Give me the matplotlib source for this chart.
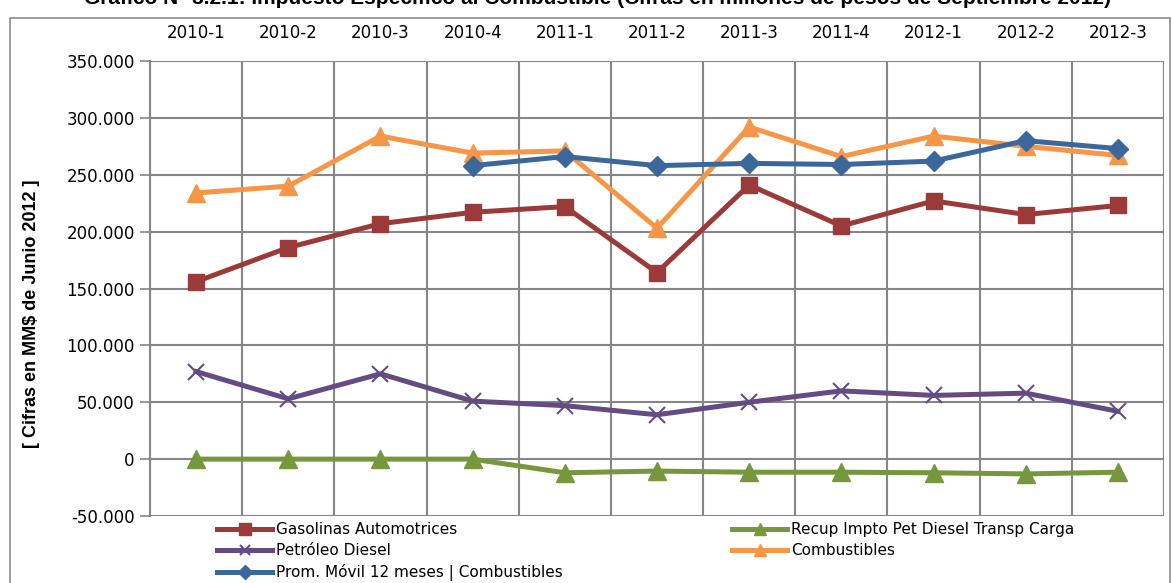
import matplotlib
matplotlib.use("Agg")
import matplotlib.pyplot as plt
from matplotlib.patches import Rectangle
from matplotlib.ticker import FuncFormatter, FixedLocator
import numpy as np

# Datos (millones de pesos)
periodos = ["2010-1", "2010-2", "2010-3", "2010-4", "2011-1", "2011-2",
            "2011-3", "2011-4", "2012-1", "2012-2", "2012-3"]
gasolinas = [156000, 186000, 207000, 217000, 222000, 164000,
             241000, 205000, 227000, 215000, 223000]
recup = [0, 0, 0, 0, -12000, -10500, -11500, -11500, -12000, -13000, -11500]
diesel = [77000, 53000, 75000, 51000, 47000, 39000,
          50000, 60000, 56000, 58000, 42000]
combustibles = [234000, 240000, 284000, 269000, 271000, 203000,
                292000, 266000, 284000, 275000, 267000]
prom_movil = [np.nan, np.nan, np.nan, 258000, 266000, 258000,
              260000, 259000, 262000, 280000, 273000]

plt.rcParams["font.family"] = ["DejaVu Sans"]

fig = plt.figure(figsize=(11.72, 5.83), dpi=100)
fig.set_facecolor("white")

# marco exterior
fig.patches.append(Rectangle((10 / 1172, -0.05), 1160 / 1172, 1.05 - 18 / 583,
                             transform=fig.transFigure, fill=False,
                             edgecolor="#8c8c8c", linewidth=1.2))

# titulo (cortado en el borde superior, como en el original)
fig.text(598 / 1172, 1.0 + 2 / 583, "Gráfico N° 3.2.1: Impuesto Específico al Combustible "
         "(Cifras en millones de pesos de Septiembre 2012)",
         ha="center", va="center", fontsize=15, fontweight="bold",
         family=["Liberation Sans", "DejaVu Sans"])

ax = fig.add_axes([150 / 1172, 1 - 516 / 583, 1014 / 1172, 455 / 583])
x = np.arange(len(periodos))

l1, = ax.plot(x, gasolinas, color="#9a3b39", lw=3.6, marker="s", ms=12,
              label="Gasolinas Automotrices")
l2, = ax.plot(x, recup, color="#77973d", lw=3.6, marker="^", ms=13,
              label="Recup Impto Pet Diesel Transp Carga")
l3, = ax.plot(x, diesel, color="#644c82", lw=3.6, marker="x", ms=11, mew=1.5,
              label="Petróleo Diesel")
l4, = ax.plot(x, combustibles, color="#f79646", lw=3.6, marker="^", ms=13,
              label="Combustibles")
l5, = ax.plot(x, prom_movil, color="#3c679b", lw=3.6, marker="D", ms=10,
              label="Prom. Móvil 12 meses | Combustibles")

ax.set_xlim(-0.5, len(periodos) - 0.5)
ax.set_ylim(-50000, 350000)
ax.set_yticks(np.arange(-50000, 350001, 50000))
ax.yaxis.set_major_formatter(FuncFormatter(
    lambda v, p: "0" if v == 0 else f"{v:,.0f}".replace(",", ".")))

ax.xaxis.tick_top()
ax.set_xticks(x)
ax.set_xticklabels(periodos)
ax.xaxis.set_minor_locator(FixedLocator(np.arange(-0.5, len(periodos), 1)))
ax.tick_params(axis="x", which="both", length=0, pad=14, labelsize=12)
ax.tick_params(axis="y", length=7, color="#868686", width=1.2, labelsize=12, pad=4)

ax.grid(axis="y", which="major", color="#868686", lw=1.5)
ax.grid(axis="x", which="minor", color="#868686", lw=1.5)
ax.set_axisbelow(True)
for s in ["top", "right", "bottom"]:
    ax.spines[s].set_visible(False)
ax.spines["left"].set_color("#868686")
ax.spines["left"].set_linewidth(1.5)

ax.set_ylabel("[ Cifras en MM$ de Junio 2012 ]", fontsize=13, fontweight="bold",
              family=["Liberation Sans", "DejaVu Sans"])
ax.yaxis.set_label_coords(-0.108, 0.445)

fig.legend(handles=[l1, l3, l5, l2, l4], loc="upper left", ncol=2,
           bbox_to_anchor=(211 / 1172, 1 - 516 / 583), frameon=False,
           fontsize=11, handlelength=3.6, handletextpad=0.25, markerscale=0.7,
           columnspacing=11.1, labelspacing=0.4, borderaxespad=0)

fig.savefig("out.png", dpi=100)
